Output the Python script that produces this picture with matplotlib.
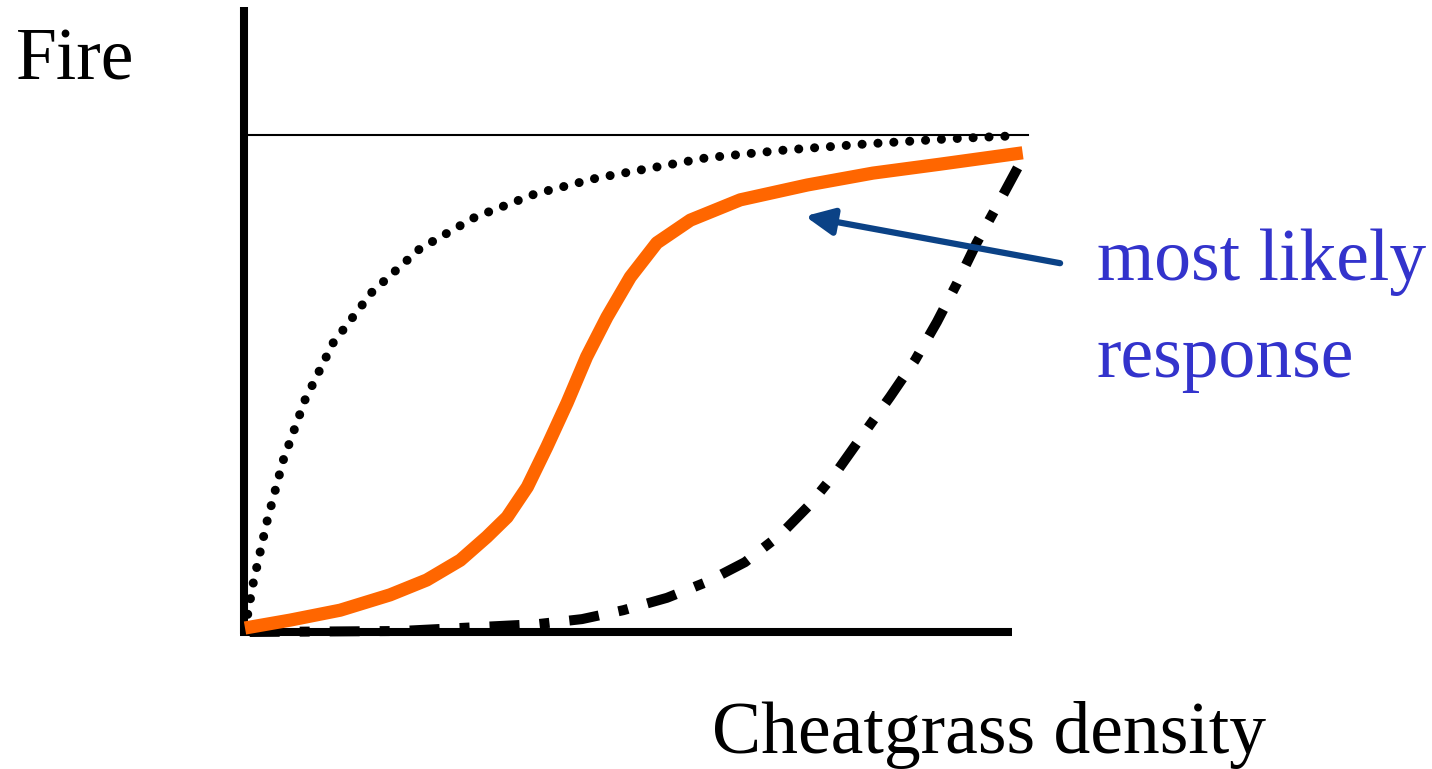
import matplotlib.pyplot as plt

# readings along each curve (density 0..1, fire 0..1)
dot_x = [0.0, 0.010, 0.028, 0.049, 0.077, 0.113, 0.163, 0.224, 0.295, 0.372,
         0.451, 0.592, 0.695, 0.797, 0.900, 0.981]
dot_y = [0.0, 0.091, 0.218, 0.343, 0.465, 0.580, 0.683, 0.770, 0.834, 0.881,
         0.913, 0.954, 0.970, 0.982, 0.992, 0.998]

orange_x = [0.000, 0.058, 0.122, 0.186, 0.233, 0.276, 0.310, 0.336, 0.362, 0.387,
            0.413, 0.438, 0.464, 0.494, 0.528, 0.571, 0.635, 0.721, 0.805, 0.891, 0.997]
orange_y = [0.004, 0.020, 0.040, 0.071, 0.101, 0.141, 0.188, 0.228, 0.289, 0.370,
            0.459, 0.552, 0.632, 0.713, 0.782, 0.828, 0.869, 0.899, 0.923, 0.941, 0.964]

dash_x = [0.006, 0.199, 0.376, 0.432, 0.485, 0.541, 0.592, 0.641, 0.686, 0.724,
          0.760, 0.792, 0.827, 0.859, 0.887, 0.913, 0.938, 0.965, 0.991, 1.003]
dash_y = [-0.004, -0.002, 0.012, 0.022, 0.040, 0.065, 0.097, 0.137, 0.192, 0.253,
          0.323, 0.394, 0.471, 0.545, 0.622, 0.701, 0.782, 0.859, 0.935, 0.966]

max_fire = 1.0
arrow_tip = (0.718, 0.836)
arrow_tail = (1.045, 0.741)

fig = plt.figure(figsize=(14.32, 7.69), dpi=100)
ax = fig.add_axes([0, 0, 1, 1])
ax.set_xlim(-0.3141, 1.5218)
ax.set_ylim(-0.2808, 1.2727)
ax.axis('off')

# axes lines
ax.plot([-0.001, -0.001], [-0.009, 1.2586], color='black', lw=5.8, solid_capstyle='butt')
ax.plot([-0.006, 0.983], [-0.004, -0.004], color='black', lw=5.8, solid_capstyle='butt')
ax.plot([0.003, 1.004], [max_fire, max_fire], color='black', lw=1.5)

# curves
ax.plot(dot_x, dot_y, color='black', lw=6.5, dashes=(0.01, 1.75),
        dash_capstyle='round')
ax.plot(dash_x, dash_y, color='black', lw=7.2, dashes=(3, 2.0, 1, 2.0),
        dash_capstyle='butt')
ax.plot(orange_x, orange_y, color='#ff6600', lw=9.5, solid_capstyle='butt',
        solid_joinstyle='round')

ax.annotate('', xy=arrow_tip, xytext=arrow_tail,
            arrowprops=dict(arrowstyle='-|>,head_length=1.7,head_width=0.8',
                            color='#0b4286', lw=4.5, shrinkA=0, shrinkB=0))

serif = ['Liberation Serif', 'DejaVu Serif']
fig.text(0.0112, 0.896, 'Fire', fontsize=53, family=serif, va='baseline')
fig.text(0.497, 0.0208, 'Cheatgrass density', fontsize=53, family=serif, va='baseline')
fig.text(0.766, 0.636, 'most likely', fontsize=53, family=serif, va='baseline', color='#3333cc')
fig.text(0.766, 0.510, 'response', fontsize=53, family=serif, va='baseline', color='#3333cc')

fig.savefig('out.png', dpi=100)
